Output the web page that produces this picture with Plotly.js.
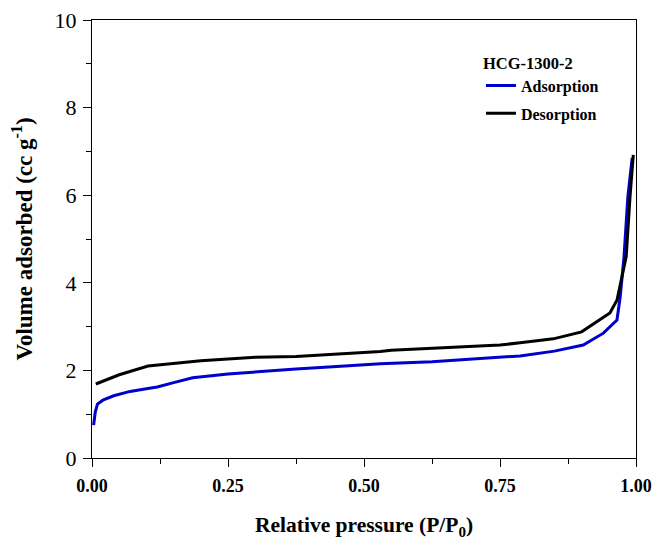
<!DOCTYPE html>
<html>
<head>
<meta charset="utf-8">
<script src="https://cdn.plot.ly/plotly-3.0.1.min.js"></script>
<style>html,body{margin:0;padding:0;background:#fff;}#chart{width:656px;height:540px;}</style>
</head>
<body>
<div id="chart"></div>
<script>
var adsP = [0.003, 0.006, 0.01, 0.02, 0.04, 0.07, 0.10, 0.12, 0.15, 0.185, 0.25, 0.30, 0.375, 0.45, 0.53, 0.625, 0.70, 0.75, 0.787, 0.85, 0.903, 0.94, 0.965, 0.971, 0.978, 0.985, 0.993];
var adsV = [0.75, 1.05, 1.23, 1.32, 1.42, 1.52, 1.58, 1.62, 1.72, 1.83, 1.92, 1.97, 2.03, 2.09, 2.15, 2.20, 2.26, 2.30, 2.33, 2.44, 2.58, 2.85, 3.15, 3.68, 4.60, 5.96, 6.85];
var desP = [0.007, 0.05, 0.103, 0.15, 0.20, 0.25, 0.30, 0.375, 0.45, 0.53, 0.55, 0.625, 0.70, 0.75, 0.787, 0.848, 0.90, 0.952, 0.965, 0.982, 0.989, 0.995];
var desV = [1.69, 1.90, 2.10, 2.16, 2.22, 2.26, 2.30, 2.32, 2.37, 2.43, 2.46, 2.50, 2.54, 2.58, 2.63, 2.72, 2.88, 3.31, 3.60, 4.60, 5.96, 6.92];
var xTicks = [0, 0.25, 0.5, 0.75, 1.0];
var xTickText = ['0.00', '0.25', '0.50', '0.75', '1.00'];
var yTicks = [0, 2, 4, 6, 8, 10];

var serif = 'Liberation Serif';
var traces = [
  {x: adsP, y: adsV, name: '<b>Adsorption</b>', legendgroup: 'a', mode: 'lines', line: {color: 'rgb(0,0,205)', width: 3}},
  {x: desP, y: desV, name: '<b>Desorption</b>', legendgroup: 'd', mode: 'lines', line: {color: '#000000', width: 3}}
];
var layout = {
  width: 656, height: 540,
  margin: {l: 92, r: 20, t: 20, b: 82},
  paper_bgcolor: '#fff', plot_bgcolor: '#fff',
  font: {family: serif, color: '#000'},
  showlegend: true,
  legend: {
    x: 0.715, y: 0.938, xanchor: 'left', yanchor: 'top',
    bgcolor: 'rgba(0,0,0,0)',
    font: {family: serif, size: 16, color: '#000'},
    title: {text: '<b>HCG-1300-2</b>', font: {family: serif, size: 16.5, color: '#000'}},
    traceorder: 'grouped',
    tracegroupgap: 4
  },
  annotations: [{
    text: '<b>Relative pressure (P/P<sub>0</sub>)</b>',
    xref: 'paper', yref: 'paper', x: 0.5, y: 0, xanchor: 'center', yanchor: 'top',
    yshift: -53, showarrow: false,
    font: {family: serif, size: 21.5, color: '#000'}
  }],
  xaxis: {
    range: [0, 1], tickvals: xTicks, ticktext: xTickText,
    ticks: 'outside', ticklen: 8, tickwidth: 1, tickcolor: '#000',
    ticklabelstandoff: 3,
    minor: {dtick: 0.125, ticks: 'outside', ticklen: 5, tickcolor: '#000'},
    showline: true, linecolor: '#000', linewidth: 1, mirror: true,
    showgrid: false, zeroline: false,
    tickfont: {family: serif, size: 18, color: '#000', weight: 'bold'}
  },
  yaxis: {
    range: [0, 10], tickvals: yTicks,
    ticks: 'outside', ticklen: 8, tickwidth: 1, tickcolor: '#000',
    ticklabelstandoff: 2,
    minor: {dtick: 1, ticks: 'outside', ticklen: 5, tickcolor: '#000'},
    showline: true, linecolor: '#000', linewidth: 1, mirror: true,
    showgrid: false, zeroline: false,
    tickfont: {family: serif, size: 22, color: '#000'},
    title: {text: '<b>Volume adsorbed (cc g<sup>-1</sup>)</b>', font: {family: serif, size: 23, color: '#000'}, standoff: 15}
  }
};
Plotly.newPlot('chart', traces, layout, {displayModeBar: false, staticPlot: true});
</script>
</body>
</html>
